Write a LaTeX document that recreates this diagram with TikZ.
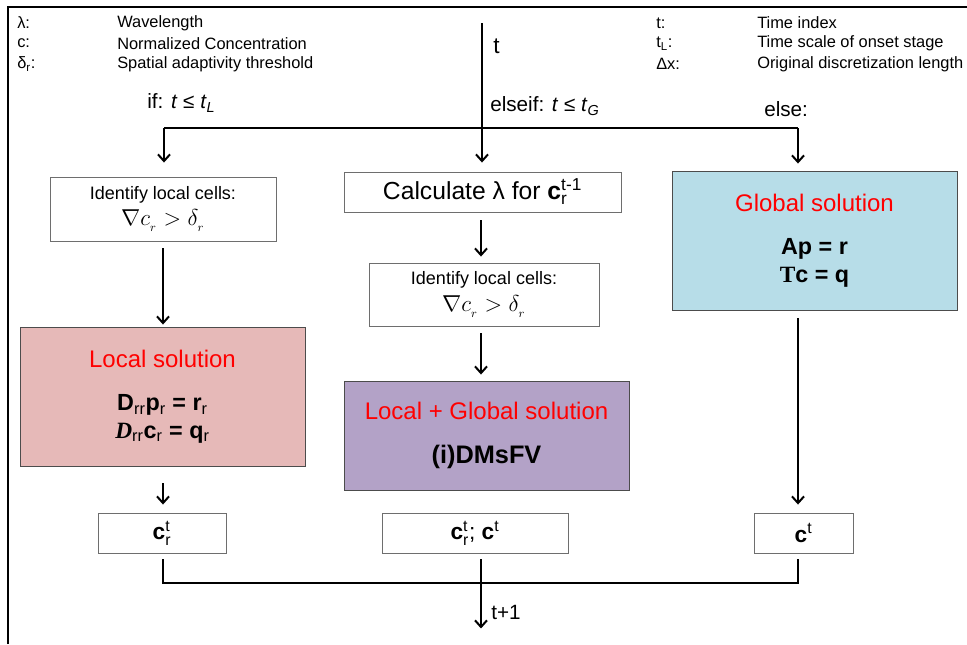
\documentclass[tikz,border=0pt]{standalone}
\usepackage{amsmath}
\usepackage{fontspec}
\setmainfont{Liberation Sans}
\newfontfamily\timesfont{Liberation Serif}
\usepackage{xcolor}
\usetikzlibrary{positioning, arrows.meta, calc}
\definecolor{localfill}{HTML}{E6B9B8}
\definecolor{globalfill}{HTML}{B7DDE8}
\definecolor{mixedfill}{HTML}{B3A2C7}
\definecolor{boxedge}{HTML}{6E6E6E}
\definecolor{titlered}{HTML}{FF0000}

% stacked sub/superscript after a bold symbol
\newcommand{\ssb}[2]{$_{\text{\mdseries #1}}^{\text{\mdseries #2}}$}
\newcommand{\sbs}[1]{$_{\text{\mdseries #1}}$}
\newcommand{\soltxt}[1]{{\fontsize{18}{20}\selectfont\mdseries\color{titlered}#1}}

\tikzset{
  frameline/.style={line width=1.8pt},
  flowline/.style={line width=1.5pt},
  flowarrow/.style={line width=1.5pt, -{Straight Barb[length=5pt, width=9pt, line width=1.5pt]}},
  legendtext/.style={anchor=west, inner sep=0pt, font=\fontsize{12.3}{14}\selectfont},
  branchtext/.style={inner sep=0pt, font=\fontsize{15.5}{17}\selectfont},
  flowbox/.style={draw=boxedge, line width=0.7pt, fill=white, inner sep=0pt, align=center},
  solbox/.style={flowbox, draw=black!70, font=\fontsize{17.5}{20.5}\selectfont\bfseries},
}

\begin{document}
\begin{tikzpicture}[x=0.75pt, y=-0.75pt]
  \useasboundingbox (0,0) rectangle (967,644);
  \draw[frameline] (8,644) -- (8,7) -- (967,7);

  % legend
  \foreach \k/\v [count=\i] in {λ:/Wavelength, c:/Normalized Concentration, δ\textsubscript{r}:/Spatial adaptivity threshold}{
    \node[legendtext] (keyL\i) at (17, 23+20.5*\i-20.5) {\k};
    \node[legendtext] (valL\i) at (117, 23+20.5*\i-20.5) {\v};
  }
  \foreach \k/\v [count=\i] in {t:/Time index, t\textsubscript{L}:/Time scale of onset stage, Δx:/Original discretization length}{
    \node[legendtext] (keyR\i) at (656, 23+20.5*\i-20.5) {\k};
    \node[legendtext] (valR\i) at (757, 23+20.5*\i-20.5) {\v};
  }

  % boxes
  \node[flowbox, minimum width=169.5pt, minimum height=48pt] (idL) at (163,209) {%
    {\fontsize{13.5}{16}\selectfont Identify local cells:}\\[4pt]
    {\fontsize{19}{19}\selectfont $\nabla c_{{}_{\scriptscriptstyle r}} > \delta_{{}_{\scriptscriptstyle r}}$}};
  \node[flowbox, minimum width=207.75pt, minimum height=30pt,
        font=\fontsize{18.5}{20}\selectfont] (calc) at (482.5,192) {Calculate λ for \textbf{c}\ssb{r}{t-1}};
  \node[flowbox, minimum width=172.5pt, minimum height=47.25pt] (idM) at (484,294.5) {%
    {\fontsize{13.5}{16}\selectfont Identify local cells:}\\[4pt]
    {\fontsize{19}{19}\selectfont $\nabla c_{{}_{\scriptscriptstyle r}} > \delta_{{}_{\scriptscriptstyle r}}$}};
  \node[solbox, fill=globalfill, minimum width=213.75pt, minimum height=104.25pt] (glob) at (814.5,240.5) {%
    \soltxt{Global solution}\\[12pt]
    Ap = r\\
    {\timesfont T}c = q};
  \node[solbox, fill=localfill, minimum width=213.75pt, minimum height=104.25pt] (locsol) at (162.5,396.5) {%
    \soltxt{Local solution}\\[12pt]
    D\sbs{rr}p\sbs{r} = r\sbs{r}\\
    {\timesfont\itshape D}\sbs{rr}c\sbs{r} = q\sbs{r}};
  \node[solbox, fill=mixedfill, minimum width=213.75pt, minimum height=81.75pt] (lgsol) at (486.5,435.5) {%
    \soltxt{Local + Global solution}\\[12pt]
    {\fontsize{19}{20}\selectfont (i)DMsFV}};
  \node[flowbox, minimum width=96pt, minimum height=30pt, font=\fontsize{17}{18}\selectfont] (crL) at (162,533) {\textbf{c}\ssb{r}{t}};
  \node[flowbox, minimum width=139.5pt, minimum height=30pt, font=\fontsize{17}{18}\selectfont] (crM) at (475,533) {\textbf{c}\ssb{r}{t}; \textbf{c}$^{\text{t}}$};
  \node[flowbox, minimum width=74.25pt, minimum height=30pt, font=\fontsize{17}{18}\selectfont] (cG) at (803.5,533) {\textbf{c}$^{\text{t}}$};

  % branching
  \coordinate (tin) at (482,23);
  \coordinate (busL) at (164,128);
  \coordinate (busR) at (798,128);
  \node[anchor=west, inner sep=0pt, font=\fontsize{17}{18}\selectfont] (tlab) at (493,46) {t};
  \node[branchtext, anchor=west] (ifL) at (147,103) {if: \textit{t} ≤ \textit{t}\textsubscript{\textit{L}}};
  \node[branchtext, anchor=west] (ifM) at (490,106) {elseif: \textit{t} ≤ \textit{t}\textsubscript{\textit{G}}};
  \node[branchtext, anchor=west] (ifR) at (764,109) {else:};
  \draw[flowline] (busL) -- (busR);
  \draw[flowarrow] (tin) -- ($(calc.north)+(-0.5,-9)$);
  \draw[flowarrow] (busL) -- ($(idL.north -| busL)+(0,-14)$);
  \draw[flowarrow] (busR) -- ($(glob.north -| busR)+(0,-7)$);

  % inside the branches
  \draw[flowarrow] ($(idL.south)+(0,7)$) -- ($(locsol.north)+(0.5,-2)$);
  \draw[flowarrow] ($(calc.south)+(-1.5,8)$) -- ($(idM.north -| calc.south)+(-1.5,-6)$);
  \draw[flowarrow] ($(idM.south)+(-3,7)$) -- ($(lgsol.north -| idM.south)+(-3,-6)$);
  \draw[flowarrow] ($(locsol.south)+(0.5,17)$) -- ($(crL.north)+(1,-8)$);
  \draw[flowarrow] ($(glob.south -| busR)+(0,8)$) -- ($(cG.north -| busR)+(0,-8)$);

  % gathering
  \coordinate (endL) at ($(crL.south)+(1,30)$);
  \coordinate (endR) at ($(cG.south -| busR)+(0,30)$);
  \draw[flowline] ($(crL.south)+(1,6)$) -- (endL) -- (endR) -- ($(cG.south -| busR)+(0,6)$);
  \draw[flowarrow] ($(crM.south -| tin)+(-1,6)$) -- ($(crM.south -| tin)+(-1,75)$);
  \node[anchor=west, inner sep=0pt, font=\fontsize{15.5}{17}\selectfont] (tnext) at (491,612) {t+1};
\end{tikzpicture}
\end{document}
